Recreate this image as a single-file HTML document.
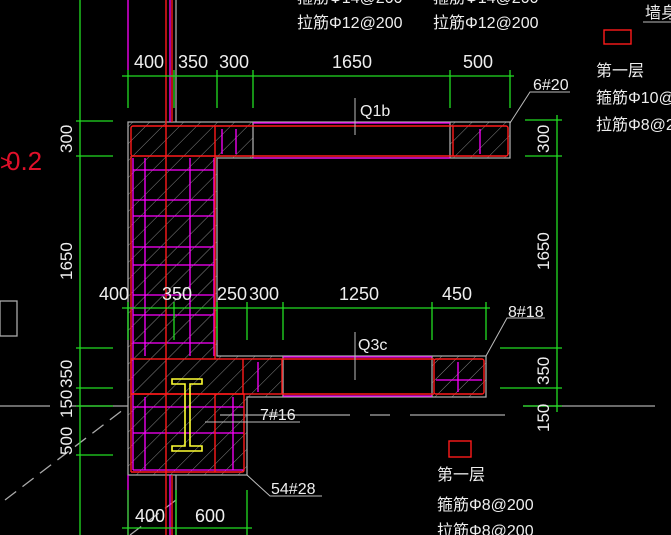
<!DOCTYPE html>
<html><head><meta charset="utf-8"><style>
html,body{margin:0;padding:0;background:#000;}
svg{display:block;}
text{font-family:"Liberation Sans","Noto Sans CJK SC",sans-serif;}
</style></head><body>
<svg width="671" height="535" viewBox="0 0 671 535" xmlns="http://www.w3.org/2000/svg">
<defs>
<pattern id="h" width="12" height="12" patternUnits="userSpaceOnUse" patternTransform="rotate(45)">
<line x1="0" y1="0" x2="0" y2="12" stroke="#aaa" stroke-width="0.8"/>
</pattern>
</defs>
<rect width="671" height="535" fill="#000"/>
<!-- hatched regions -->
<g fill="url(#h)">
<rect x="128" y="122" width="125" height="36"/>
<rect x="450" y="122" width="60" height="36"/>
<rect x="128" y="158" width="89" height="198"/>
<rect x="128" y="356" width="155" height="41"/>
<rect x="432" y="356" width="54" height="41"/>
<rect x="128" y="397" width="119" height="78"/>
</g>
<!-- grey outline -->
<g fill="none" stroke="#aaa" stroke-width="1.3">
<path d="M128 122 H510 V158 H217 V356 H486 V397 H247 V475 H128 Z"/>
<line x1="253" y1="122" x2="253" y2="158"/>
<line x1="450" y1="122" x2="450" y2="158"/>
<line x1="283" y1="356" x2="283" y2="397"/>
<line x1="432" y1="356" x2="432" y2="397"/>
<line x1="176" y1="0" x2="176" y2="122"/>
<line x1="176" y1="475" x2="176" y2="535"/>
<line x1="0" y1="406" x2="50" y2="406"/>
<line x1="70" y1="406" x2="128" y2="406"/>
<line x1="220" y1="415" x2="350" y2="415"/>
<line x1="370" y1="415" x2="390" y2="415"/>
<line x1="410" y1="415" x2="505" y2="415"/>
<line x1="523" y1="406" x2="655" y2="406"/>
<line x1="5" y1="500" x2="128" y2="406" stroke-dasharray="14 8"/>
<line x1="130" y1="535" x2="176" y2="500" stroke-dasharray="14 8"/>
<rect x="0" y="301" width="17" height="35"/>
</g>
<!-- magenta lines -->
<g fill="none" stroke="#ff00ff" stroke-width="1.3">
<line x1="128" y1="0" x2="128" y2="70"/>
<line x1="170" y1="0" x2="170" y2="122"/>
<line x1="170" y1="475" x2="170" y2="535"/>
<line x1="128" y1="475" x2="128" y2="535"/>
<line x1="253" y1="123" x2="450" y2="123"/>
<line x1="253" y1="158" x2="450" y2="158"/>
<line x1="283" y1="357" x2="432" y2="357"/>
<line x1="283" y1="396" x2="432" y2="396"/>
<line x1="133" y1="158" x2="133" y2="470"/>
<line x1="145" y1="158" x2="145" y2="356"/>
<line x1="190" y1="158" x2="190" y2="356"/>
<line x1="214" y1="158" x2="214" y2="356"/>
<line x1="133" y1="170" x2="214" y2="170"/>
<line x1="133" y1="200" x2="214" y2="200"/>
<line x1="133" y1="216" x2="214" y2="216"/>
<line x1="133" y1="247" x2="214" y2="247"/>
<line x1="133" y1="265" x2="214" y2="265"/>
<line x1="133" y1="295" x2="214" y2="295"/>
<line x1="133" y1="315" x2="214" y2="315"/>
<line x1="133" y1="343" x2="214" y2="343"/>
<line x1="133" y1="407" x2="244" y2="407"/>
<line x1="133" y1="433" x2="244" y2="433"/>
<line x1="133" y1="470" x2="244" y2="470"/>
<line x1="145" y1="397" x2="145" y2="470"/>
<line x1="233" y1="397" x2="233" y2="470"/>
<line x1="222" y1="129" x2="222" y2="154"/>
<line x1="236" y1="129" x2="236" y2="154"/>
<line x1="480" y1="129" x2="480" y2="154"/>
<line x1="258" y1="362" x2="258" y2="392"/>
<line x1="436" y1="380" x2="482" y2="380"/>
<line x1="458" y1="362" x2="458" y2="392"/>
</g>
<!-- red lines -->
<g fill="none" stroke="#ff1a1a" stroke-width="1.4">
<rect x="131" y="126" width="377" height="30" rx="2"/>
<line x1="131" y1="156" x2="131" y2="472"/>
<line x1="215" y1="156" x2="215" y2="359"/>
<line x1="166" y1="0" x2="166" y2="535"/>
<line x1="172" y1="0" x2="172" y2="122"/>
<line x1="172" y1="475" x2="172" y2="535"/>
<rect x="131" y="359" width="151" height="35"/>
<rect x="434" y="359" width="50" height="35" rx="2"/>
<line x1="282" y1="359" x2="434" y2="359"/>
<line x1="282" y1="394" x2="434" y2="394"/>
<path d="M131 394 H244 V470 Q244 472 242 472 H131"/>
<line x1="215" y1="394" x2="215" y2="472"/>
<line x1="215" y1="126" x2="215" y2="156"/>
<line x1="243" y1="359" x2="243" y2="394"/>
<line x1="453" y1="126" x2="453" y2="156"/>
<rect x="604" y="30" width="27" height="14"/>
<rect x="449" y="441" width="22" height="16"/>
</g>
<!-- yellow I beam -->
<g fill="none" stroke="#ffff33" stroke-width="1.6">
<path d="M172 379 H202 V384 H190 V446 H202 V451 H172 V446 H185 V384 H172 Z"/>
</g>
<!-- green dimensions -->
<g fill="none" stroke="#22dd22" stroke-width="1.3">
<line x1="122" y1="76" x2="514" y2="76"/>
<line x1="128" y1="70" x2="128" y2="108"/><line x1="174" y1="70" x2="174" y2="108"/>
<line x1="217" y1="70" x2="217" y2="108"/><line x1="253" y1="70" x2="253" y2="108"/>
<line x1="450" y1="70" x2="450" y2="108"/><line x1="510" y1="70" x2="510" y2="108"/>
<line x1="122" y1="308" x2="490" y2="308"/>
<line x1="128" y1="302" x2="128" y2="340"/><line x1="174" y1="302" x2="174" y2="340"/>
<line x1="217" y1="302" x2="217" y2="340"/><line x1="247" y1="302" x2="247" y2="340"/>
<line x1="283" y1="302" x2="283" y2="340"/><line x1="432" y1="302" x2="432" y2="340"/>
<line x1="486" y1="302" x2="486" y2="340"/>
<line x1="122" y1="528" x2="252" y2="528"/>
<line x1="128" y1="490" x2="128" y2="535"/><line x1="176" y1="490" x2="176" y2="535"/>
<line x1="247" y1="490" x2="247" y2="535"/>
<line x1="80" y1="0" x2="80" y2="535"/>
<line x1="76" y1="121" x2="113" y2="121"/><line x1="76" y1="156" x2="113" y2="156"/>
<line x1="76" y1="348" x2="113" y2="348"/><line x1="76" y1="388" x2="113" y2="388"/>
<line x1="76" y1="406" x2="113" y2="406"/><line x1="76" y1="455" x2="113" y2="455"/>
<line x1="557" y1="115" x2="557" y2="412"/>
<line x1="525" y1="120" x2="562" y2="120"/><line x1="525" y1="156" x2="562" y2="156"/>
<line x1="500" y1="348" x2="562" y2="348"/><line x1="500" y1="388" x2="562" y2="388"/>
<line x1="523" y1="406" x2="562" y2="406"/>
</g>
<!-- leaders -->
<g fill="none" stroke="#bbb" stroke-width="1">
<polyline points="510,123 530,92 570,92"/>
<polyline points="486,356 507,318 545,318"/>
<polyline points="205,422 300,422"/>
<polyline points="247,475 270,496 322,496"/>
<line x1="355" y1="98" x2="355" y2="135"/>
<line x1="355" y1="332" x2="355" y2="380"/>
<line x1="643" y1="22" x2="671" y2="22"/>
</g>
<!-- text -->
<g fill="#eee" font-size="19" textLength="">
<text x="134" y="68" font-size="18">400</text>
<text x="178" y="68" font-size="18">350</text>
<text x="219" y="68" font-size="18">300</text>
<text x="332" y="68" font-size="18">1650</text>
<text x="463" y="68" font-size="18">500</text>
<text x="99" y="300" font-size="18">400</text>
<text x="162" y="300" font-size="18">350</text>
<text x="217" y="300" font-size="18">250</text>
<text x="249" y="300" font-size="18">300</text>
<text x="339" y="300" font-size="18">1250</text>
<text x="442" y="300" font-size="18">450</text>
<text x="135" y="522" font-size="18">400</text>
<text x="195" y="522" font-size="18">600</text>
<text x="360" y="116" font-size="16">Q1b</text>
<text x="358" y="350" font-size="16">Q3c</text>
<text x="533" y="90" font-size="16">6#20</text>
<text x="508" y="317" font-size="16">8#18</text>
<text x="260" y="420" font-size="16">7#16</text>
<text x="271" y="494" font-size="16">54#28</text>
<g font-size="17">
<text transform="translate(72,153) rotate(-90)">300</text>
<text transform="translate(72,280) rotate(-90)">1650</text>
<text transform="translate(72,388) rotate(-90)">350</text>
<text transform="translate(72,418) rotate(-90)">150</text>
<text transform="translate(72,455) rotate(-90)">500</text>
<text transform="translate(549,153) rotate(-90)">300</text>
<text transform="translate(549,270) rotate(-90)">1650</text>
<text transform="translate(549,385) rotate(-90)">350</text>
<text transform="translate(549,432) rotate(-90)">150</text>
</g>
<g font-size="16">
<text x="297" y="28">拉筋Φ12@200</text>
<text x="433" y="28">拉筋Φ12@200</text>
<text x="297" y="3">箍筋Φ14@200</text>
<text x="433" y="3">箍筋Φ14@200</text>
<text x="596" y="76">第一层</text>
<text x="596" y="103">箍筋Φ10@200</text>
<text x="596" y="130">拉筋Φ8@200</text>
<text x="645" y="18">墙身</text>
<text x="437" y="480">第一层</text>
<text x="437" y="510">箍筋Φ8@200</text>
<text x="437" y="536">拉筋Φ8@200</text>
</g>
</g>
<text x="6" y="170" fill="#e0102a" font-size="26">0.2</text>
<text x="0" y="170" fill="#e0102a" font-size="22">&gt;</text>
</svg>
</body></html>
